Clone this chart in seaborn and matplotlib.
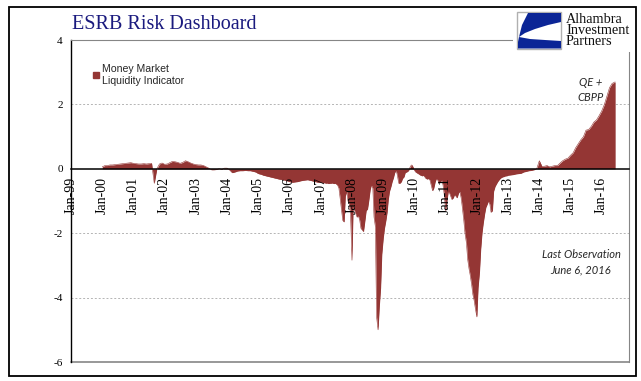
import matplotlib
matplotlib.use('Agg')
import matplotlib.pyplot as plt
from matplotlib.patches import Rectangle, Polygon, Patch
import seaborn as sns
import pandas as pd

# Money market liquidity indicator
# monthly values 2000-2006
v2000 = [0.06, 0.10, 0.10, 0.12, 0.12, 0.13, 0.14, 0.15, 0.16, 0.17, 0.18, 0.19]
v2001 = [0.17, 0.16, 0.15, 0.15, 0.16, 0.15, 0.16, 0.17, -0.45, 0.0, 0.15, 0.18]
v2002 = [0.14, 0.15, 0.19, 0.23, 0.22, 0.20, 0.17, 0.20, 0.25, 0.22, 0.18, 0.15]
v2003 = [0.13, 0.12, 0.12, 0.10, 0.06, 0.02, -0.03, -0.03, -0.02, 0.0, -0.02, 0.02]
v2004 = [0.02, -0.04, -0.12, -0.10, -0.07, -0.06, -0.06, -0.05, -0.06, -0.06, -0.08, -0.10]
v2005 = [-0.15, -0.17, -0.20, -0.22, -0.24, -0.26, -0.28, -0.30, -0.32, -0.33, -0.35, -0.37]
v2006 = [-0.40, -0.42, -0.41, -0.40, -0.38, -0.36, -0.35, -0.34, -0.36, -0.38, -0.40, -0.42]
# semi-monthly values 2007-2012 (1st and 15th)
v2007 = [-0.42, -0.42, -0.44, -0.43, -0.45, -0.44, -0.46, -0.45, -0.45, -0.44, -0.46, -0.45,
         -0.47, -0.50, -0.60, -0.90, -1.30, -1.60, -1.65, -0.85, -0.70, -1.00, -1.10, -1.40]
v2008 = [-2.84, -1.10, -1.30, -1.40, -1.50, -1.45, -1.60, -1.85, -1.90, -1.95, -1.60, -1.30,
         -1.25, -1.00, -0.65, -0.50, -0.60, -1.50, -1.80, -4.60, -5.00, -4.30, -3.70, -2.65]
v2009 = [-2.15, -1.85, -1.60, -1.35, -0.95, -0.70, -0.55, -0.40, -0.27, -0.12, -0.05, -0.20,
         -0.45, -0.45, -0.40, -0.30, -0.25, -0.12, -0.10, -0.08, -0.02, 0.08, 0.12, 0.06]
v2010 = [-0.05, -0.10, -0.13, -0.15, -0.18, -0.20, -0.22, -0.20, -0.25, -0.30, -0.32, -0.30,
         -0.35, -0.50, -0.68, -0.60, -0.40, -0.30, -0.35, -0.45, -0.40, -0.35, -0.50, -0.80]
v2011 = [-1.30, -1.00, -0.70, -0.75, -0.85, -0.95, -0.90, -0.80, -0.85, -0.90, -0.75, -0.70,
         -0.90, -1.20, -1.60, -2.00, -2.30, -2.80, -3.10, -3.30, -3.60, -3.90, -4.10, -4.35]
v2012 = [-4.60, -3.70, -3.20, -2.50, -2.00, -1.70, -1.40, -1.20, -1.10, -1.00, -1.10, -1.35,
         -1.30, -0.70, -0.55, -0.48, -0.40, -0.35, -0.30, -0.27, -0.25, -0.24, -0.22, -0.22]
# monthly values 2013-2015
v2013 = [-0.20, -0.19, -0.18, -0.16, -0.15, -0.14, -0.10, -0.08, -0.06, -0.05, -0.03, 0.0]
v2014 = [0.25, 0.07, 0.08, 0.10, 0.06, 0.08, 0.10, 0.10, 0.18, 0.25, 0.30, 0.33]
v2015 = [0.42, 0.50, 0.65, 0.78, 0.90, 1.00, 1.20, 1.22, 1.32, 1.45, 1.52, 1.65]
# 2016: Jan-May, then last observation June 6, 2016
v2016 = [1.80, 2.00, 2.25, 2.52, 2.65, 2.70]
last_obs = '2016-06-06'

tick_labels = ['Jan-99', 'Jan-00', 'Jan-01', 'Jan-02', 'Jan-03', 'Jan-04', 'Jan-05', 'Jan-06',
               'Jan-07', 'Jan-08', 'Jan-09', 'Jan-10', 'Jan-11', 'Jan-12', 'Jan-13', 'Jan-14',
               'Jan-15', 'Jan-16']

monthly = {2000: v2000, 2001: v2001, 2002: v2002, 2003: v2003, 2004: v2004, 2005: v2005,
           2006: v2006, 2013: v2013, 2014: v2014, 2015: v2015}
semi = {2007: v2007, 2008: v2008, 2009: v2009, 2010: v2010, 2011: v2011, 2012: v2012}

parts = []
for yr, vals in monthly.items():
    parts.append(pd.DataFrame({'date': pd.date_range(f'{yr}-01-01', periods=12, freq='MS'), 'value': vals}))
for yr, vals in semi.items():
    parts.append(pd.DataFrame({'date': pd.date_range(f'{yr}-01-01', periods=24, freq='SMS'), 'value': vals}))
d16 = list(pd.date_range('2016-01-01', periods=5, freq='MS')) + [pd.Timestamp(last_obs)]
parts.append(pd.DataFrame({'date': d16, 'value': v2016}))
df = pd.concat(parts).sort_values('date').reset_index(drop=True)

RED = '#943634'
GREY = '#868686'

sns.set_style('white')
plt.rcParams['font.family'] = ['Liberation Serif', 'DejaVu Serif']

W, H = 641, 381
fig = plt.figure(figsize=(W / 100, H / 100), dpi=100)
ax = fig.add_axes([71 / W, 1 - 362 / H, (629 - 71) / W, (362 - 40) / H])
ax.set_axisbelow(False)


def px(x, y):
    return x / W, 1 - y / H


# data
ax.fill_between(df['date'], df['value'], 0, color=RED, lw=0, zorder=1)
sns.lineplot(data=df, x='date', y='value', color=RED, lw=0.4, ax=ax, zorder=1.1)

ax.set_xlim(pd.Timestamp('1999-01-01'), pd.Timestamp('2016-11-15'))
ax.set_ylim(-6, 4)
ax.set_yticks([-6, -4, -2, 0, 2, 4])
ax.set_yticklabels(['-6', '-4', '-2', '0', '2', '4'], fontsize=8)
ax.set_xticks(pd.to_datetime([f'{1999 + i}-01-01' for i in range(len(tick_labels))]))
ax.set_xticklabels(tick_labels, fontsize=7.3)
ax.set_xlabel('')
ax.set_ylabel('')

# gridlines
for g in [2, -2, -4]:
    ax.axhline(g, color='#b4b4b4', lw=0.7, ls=(0, (2, 2)), zorder=0.5)
ax.axhline(-6, color=GREY, lw=1.2, zorder=2, clip_on=False)

# spines: zero line carries the date ticks
ax.spines['bottom'].set_position(('data', 0))
ax.spines['bottom'].set_color('black')
ax.spines['bottom'].set_linewidth(1.1)
ax.spines['left'].set_color('black')
ax.spines['left'].set_linewidth(1.0)
ax.spines['top'].set_color(GREY)
ax.spines['right'].set_color(GREY)
ax.tick_params(axis='x', direction='out', length=2.5, width=0.8, pad=3.5, colors='black',
               labelrotation=90)
ax.tick_params(axis='y', direction='out', length=3, width=0.8, pad=3, colors='black')
for lab in ax.get_xticklabels():
    lab.set_rotation(90)
    lab.set_va('top')
    lab.set_ha('center')

# legend
leg = ax.legend(handles=[Patch(color=RED, label='Money Market\nLiquidity Indicator')],
                loc='upper left', bbox_to_anchor=(0.04, 0.925), frameon=False,
                handlelength=0.55, handleheight=0.55, handletextpad=0.3,
                borderpad=0, borderaxespad=0, prop={'family': 'Liberation Sans', 'size': 7.6})

# annotations
ax.text(0.932, 0.846, 'QE +\nCBPP', transform=ax.transAxes, ha='center', va='center',
        family='Lato', style='italic', fontsize=8, linespacing=1.45)
ax.text(0.914, 0.309, 'Last Observation\nJune 6, 2016', transform=ax.transAxes, ha='center',
        va='center', family='Lato', style='italic', fontsize=8, linespacing=1.45)

# title
fig.text(*px(72, 29), 'ESRB Risk Dashboard', color='#1a1a7e', fontsize=14.5,
         ha='left', va='baseline', family='Liberation Serif')

# logo area
fig.add_artist(Rectangle(px(513, 52), 121 / W, 44 / H, transform=fig.transFigure,
                         facecolor='white', edgecolor='none', zorder=3))
fig.add_artist(Rectangle(px(517, 49), 44 / W, 37 / H, transform=fig.transFigure,
                         facecolor='white', edgecolor='#b0b0b0', lw=1, zorder=4))
upper = [(528, 13), (561, 13), (561, 22), (548, 25), (535, 29), (525, 33), (519, 37), (522, 25)]
lower = [(519, 37), (530, 39), (545, 40), (561, 41), (561, 48.5), (518, 48.5), (518, 42)]
for shape in (upper, lower):
    fig.add_artist(Polygon([px(x, y) for x, y in shape], closed=True, transform=fig.transFigure,
                           facecolor='#0b2596', edgecolor='none', zorder=5))
fig.text(*px(566, 13), 'Alhambra\nInvestment\nPartners', fontsize=10.3, color='#111111',
         ha='left', va='top', linespacing=0.82, family='Liberation Serif', zorder=6)

# outer frame
fig.add_artist(Rectangle(px(9, 376), 627 / W, 369 / H, transform=fig.transFigure,
                         fill=False, edgecolor='black', lw=1.3, zorder=7))

fig.savefig('out.png', dpi=100)
